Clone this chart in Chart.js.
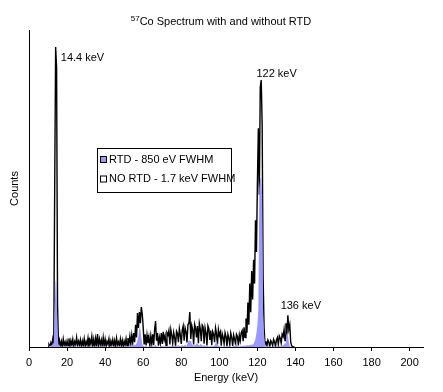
<!DOCTYPE html>
<html>
<head>
<meta charset="utf-8">
<script src="https://cdn.jsdelivr.net/npm/chart.js@4.4.0/dist/chart.umd.min.js"></script>
<style>
  html, body { margin: 0; padding: 0; background: #fff; }
  #wrap { width: 443px; height: 392px; }
</style>
</head>
<body>
<div id="wrap"><canvas id="chart" width="443" height="392"></canvas></div>
<script>
// channel energies (keV), 0.5 keV channels
const energies = [
  10.0, 10.5, 11.0, 11.5, 12.0, 12.5, 13.0, 13.5, 14.0, 14.5,
  15.0, 15.5, 16.0, 16.5, 17.0, 17.5, 18.0, 18.5, 19.0, 19.5,
  20.0, 20.5, 21.0, 21.5, 22.0, 22.5, 23.0, 23.5, 24.0, 24.5,
  25.0, 25.5, 26.0, 26.5, 27.0, 27.5, 28.0, 28.5, 29.0, 29.5,
  30.0, 30.5, 31.0, 31.5, 32.0, 32.5, 33.0, 33.5, 34.0, 34.5,
  35.0, 35.5, 36.0, 36.5, 37.0, 37.5, 38.0, 38.5, 39.0, 39.5,
  40.0, 40.5, 41.0, 41.5, 42.0, 42.5, 43.0, 43.5, 44.0, 44.5,
  45.0, 45.5, 46.0, 46.5, 47.0, 47.5, 48.0, 48.5, 49.0, 49.5,
  50.0, 50.5, 51.0, 51.5, 52.0, 52.5, 53.0, 53.5, 54.0, 54.5,
  55.0, 55.5, 56.0, 56.5, 57.0, 57.5, 58.0, 58.5, 59.0, 59.5,
  60.0, 60.5, 61.0, 61.5, 62.0, 62.5, 63.0, 63.5, 64.0, 64.5,
  65.0, 65.5, 66.0, 66.5, 67.0, 67.5, 68.0, 68.5, 69.0, 69.5,
  70.0, 70.5, 71.0, 71.5, 72.0, 72.5, 73.0, 73.5, 74.0, 74.5,
  75.0, 75.5, 76.0, 76.5, 77.0, 77.5, 78.0, 78.5, 79.0, 79.5,
  80.0, 80.5, 81.0, 81.5, 82.0, 82.5, 83.0, 83.5, 84.0, 84.5,
  85.0, 85.5, 86.0, 86.5, 87.0, 87.5, 88.0, 88.5, 89.0, 89.5,
  90.0, 90.5, 91.0, 91.5, 92.0, 92.5, 93.0, 93.5, 94.0, 94.5,
  95.0, 95.5, 96.0, 96.5, 97.0, 97.5, 98.0, 98.5, 99.0, 99.5,
  100.0, 100.5, 101.0, 101.5, 102.0, 102.5, 103.0, 103.5, 104.0, 104.5,
  105.0, 105.5, 106.0, 106.5, 107.0, 107.5, 108.0, 108.5, 109.0, 109.5,
  110.0, 110.5, 111.0, 111.5, 112.0, 112.5, 113.0, 113.5, 114.0, 114.5,
  115.0, 115.5, 116.0, 116.5, 117.0, 117.5, 118.0, 118.5, 119.0, 119.5,
  120.0, 120.5, 121.0, 121.5, 122.0, 122.5, 123.0, 123.5, 124.0, 124.5,
  125.0, 125.5, 126.0, 126.5, 127.0, 127.5, 128.0, 128.5, 129.0, 129.5,
  130.0, 130.5, 131.0, 131.5, 132.0, 132.5, 133.0, 133.5, 134.0, 134.5,
  135.0, 135.5, 136.0, 136.5, 137.0, 137.5, 138.0, 138.5, 139.0, 139.5
];

// counts with RTD (850 eV FWHM)
const rtdCounts = [
  0, 2, 4, 3, 6, 8, 14, 120, 211, 200,
  30, 8, 3, 1, 2, 0, 1, 3, 0, 2,
  4, 0, 1, 2, 0, 3, 1, 0, 2, 1,
  0, 2, 1, 0, 3, 1, 0, 2, 1, 0,
  2, 0, 1, 3, 0, 2, 1, 0, 4, 1,
  0, 3, 1, 0, 2, 1, 0, 3, 1, 0,
  5, 1, 0, 2, 1, 0, 3, 1, 0, 2,
  1, 0, 2, 1, 0, 3, 1, 0, 2, 1,
  0, 2, 1, 3, 2, 4, 3, 5, 4, 6,
  5, 8, 6, 12, 20, 35, 60, 58, 30, 10,
  4, 2, 3, 1, 2, 0, 3, 1, 2, 0,
  2, 1, 4, 6, 3, 1, 2, 0, 1, 3,
  2, 4, 1, 3, 2, 5, 3, 1, 4, 2,
  3, 1, 4, 2, 5, 3, 2, 6, 4, 3,
  4, 6, 3, 5, 7, 4, 8, 15, 22, 18,
  20, 10, 6, 4, 7, 5, 10, 12, 6, 4,
  10, 8, 5, 3, 6, 4, 2, 5, 3, 1,
  2, 4, 1, 3, 2, 5, 12, 20, 10, 3,
  2, 1, 3, 0, 2, 4, 1, 2, 0, 1,
  3, 1, 2, 0, 1, 3, 2, 8, 12, 5,
  2, 1, 3, 2, 4, 3, 5, 4, 6, 5,
  6, 5, 7, 6, 8, 7, 10, 18, 25, 45,
  70, 120, 500, 533, 533, 480, 100, 40, 10, 3,
  2, 1, 3, 1, 2, 0, 1, 2, 3, 1,
  2, 3, 1, 4, 2, 5, 3, 6, 8, 12,
  25, 44, 40, 15, 4, 0, 0, 0, 0, 0
];

// counts without RTD (1.7 keV FWHM)
const noRtdCounts = [
  0, 8, 2, 14, 4, 26, 10, 505, 946, 880,
  130, 6, 22, 3, 18, 0, 25, 5, 16, 2,
  19, 4, 27, 1, 20, 6, 24, 0, 17, 8,
  30, 3, 18, 7, 23, 0, 19, 5, 26, 2,
  17, 6, 28, 0, 22, 9, 33, 3, 24, 0,
  27, 5, 41, 2, 25, 8, 22, 0, 30, 4,
  24, 1, 18, 9, 26, 0, 19, 6, 23, 3,
  20, 0, 28, 7, 16, 2, 25, 5, 21, 0,
  18, 6, 26, 3, 28, 10, 34, 8, 38, 12,
  44, 15, 70, 30, 107, 60, 110, 75, 126, 104,
  62, 8, 40, 5, 38, 12, 31, 3, 35, 10,
  40, 6, 55, 82, 20, 44, 4, 30, 12, 44,
  10, 48, 22, 36, 5, 45, 38, 52, 8, 55,
  37, 12, 46, 30, 3, 50, 43, 15, 58, 39,
  10, 53, 66, 20, 60, 48, 14, 70, 75, 110,
  25, 68, 55, 8, 72, 60, 30, 66, 12, 74,
  57, 18, 69, 63, 10, 61, 45, 5, 67, 58,
  22, 52, 6, 49, 40, 15, 60, 42, 8, 55,
  36, 47, 4, 42, 30, 10, 45, 32, 2, 40,
  28, 7, 44, 30, 3, 38, 26, 9, 40, 33,
  5, 38, 20, 45, 52, 18, 62, 30, 90, 45,
  140, 70, 200, 110, 240, 150, 275, 200, 400, 300,
  520, 690, 480, 820, 842, 700, 220, 63, 8, 18,
  3, 22, 15, 0, 20, 14, 4, 24, 16, 2,
  22, 30, 8, 35, 28, 12, 40, 33, 55, 20,
  75, 40, 100, 55, 70, 15, 4, 0, 0, 0
];

const seriesLabels = ['RTD - 850 eV FWHM', 'NO RTD - 1.7 keV FWHM'];
const xTickValues = [0, 20, 40, 60, 80, 100, 120, 140, 160, 180, 200];

// peak labels, placed in data coordinates
const peakLabels = [
  { text: '14.4 keV', x: 16.7, y: 912 },
  { text: '122 keV', x: 119.5, y: 860 },
  { text: '136 keV', x: 132.2, y: 128 }
];

const FONT = '"Liberation Sans", Arial, sans-serif';
const RTD_BLUE = '#9999ff';

const toPoints = (counts) => counts.map((c, i) => ({ x: energies[i], y: c }));

const overlay = {
  id: 'overlay',
  afterDraw(chart) {
    const { ctx, scales: { x, y } } = chart;
    ctx.save();
    ctx.fillStyle = '#000';
    ctx.textBaseline = 'alphabetic';

    // title with superscript mass number
    const sup = '57', main = 'Co Spectrum with and without RTD';
    ctx.font = '8px ' + FONT;
    const wSup = ctx.measureText(sup).width;
    ctx.font = '11px ' + FONT;
    const wMain = ctx.measureText(main).width;
    let tx = 221 - (wSup + wMain) / 2;
    ctx.font = '8px ' + FONT;
    ctx.fillText(sup, tx, 21);
    ctx.font = '11px ' + FONT;
    ctx.fillText(main, tx + wSup, 25);

    // peak labels
    ctx.textBaseline = 'middle';
    ctx.textAlign = 'left';
    peakLabels.forEach(p => {
      ctx.fillText(p.text, x.getPixelForValue(p.x), y.getPixelForValue(p.y));
    });

    // legend box
    const bx = 97.5, by = 148.5, bw = 134, bh = 44;
    ctx.fillStyle = '#fff';
    ctx.fillRect(bx, by, bw, bh);
    ctx.strokeStyle = '#000';
    ctx.lineWidth = 1;
    ctx.strokeRect(bx, by, bw, bh);
    const fills = [RTD_BLUE, '#ffffff'];
    seriesLabels.forEach((lab, i) => {
      const cy = 159.5 + i * 19.5;
      ctx.fillStyle = fills[i];
      ctx.fillRect(100.5, cy - 3, 6, 6);
      ctx.strokeStyle = '#000';
      ctx.strokeRect(100.5, cy - 3, 6, 6);
      ctx.fillStyle = '#000';
      ctx.fillText(lab, 109, cy);
    });
    ctx.restore();
  }
};

new Chart(document.getElementById('chart'), {
  type: 'line',
  data: {
    datasets: [
      {
        label: seriesLabels[0],
        data: toPoints(rtdCounts),
        backgroundColor: RTD_BLUE,
        borderColor: 'rgba(0,0,0,0)',
        borderWidth: 1,
        fill: 'origin',
        pointRadius: 0,
        tension: 0
      },
      {
        label: seriesLabels[1],
        data: toPoints(noRtdCounts),
        backgroundColor: '#ffffff',
        borderColor: '#000000',
        borderWidth: 1.4,
        fill: 'origin',
        pointRadius: 0,
        tension: 0
      }
    ]
  },
  options: {
    responsive: false,
    animation: false,
    devicePixelRatio: 1,
    layout: { padding: { top: 30, right: 20, left: 0, bottom: 0 } },
    plugins: {
      legend: { display: false },
      tooltip: { enabled: false },
      title: { display: false }
    },
    scales: {
      x: {
        type: 'linear',
        min: 0,
        max: 207,
        afterFit: s => { s.height = 45; },
        afterBuildTicks: s => { s.ticks = xTickValues.map(v => ({ value: v })); },
        ticks: {
          color: '#000',
          font: { family: FONT, size: 11 },
          padding: 5,
          maxRotation: 0,
          autoSkip: false
        },
        grid: { drawOnChartArea: false, drawTicks: true, tickLength: 4, color: '#000', lineWidth: 1 },
        border: { display: true, color: '#000', width: 1 },
        title: {
          display: true,
          text: 'Energy (keV)',
          color: '#000',
          font: { family: FONT, size: 11 },
          padding: { top: 0, bottom: 7 }
        }
      },
      y: {
        min: 0,
        max: 1000,
        afterFit: s => { s.width = 29; },
        ticks: { display: false },
        grid: { drawOnChartArea: false, drawTicks: false },
        border: { display: true, color: '#000', width: 1 },
        title: {
          display: true,
          text: 'Counts',
          color: '#000',
          font: { family: FONT, size: 11 },
          padding: { top: 8, bottom: 0 }
        }
      }
    }
  },
  plugins: [overlay]
});
</script>
</body>
</html>
